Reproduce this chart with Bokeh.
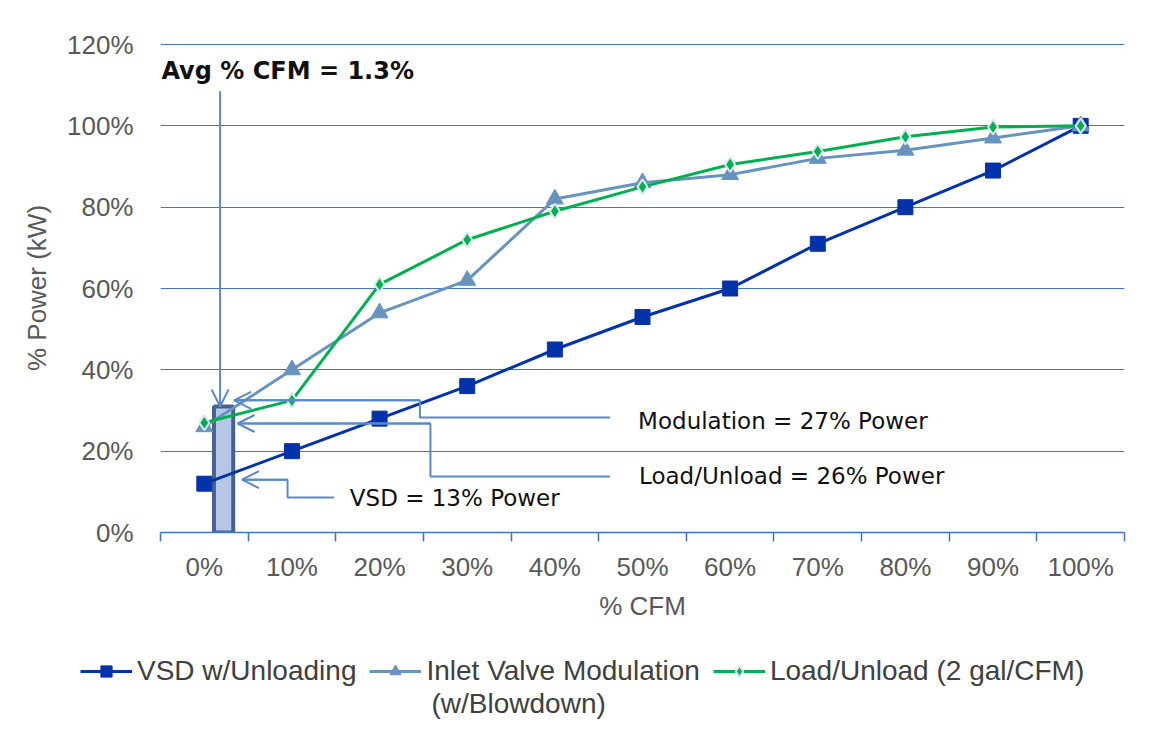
from bokeh.plotting import figure
from bokeh.models import (Range1d, FixedTicker, PrintfTickFormatter, Label, Arrow,
                          OpenHead, Legend, LegendItem)
from bokeh.embed import file_html
from bokeh.resources import INLINE

# ---------------- data ----------------
cfm_labels = ["0%", "10%", "20%", "30%", "40%", "50%", "60%", "70%", "80%", "90%", "100%"]
vsd_power = [12, 20, 28, 36, 45, 53, 60, 71, 80, 89, 100]
inlet_power = [26, 40, 54, 62, 82, 86, 88, 92, 94, 97, 100]
load_power = [27, 32.5, 61, 72, 79, 85, 90.5, 93.7, 97.3, 99.7, 100]
y_ticks = [0, 20, 40, 60, 80, 100, 120]

series_names = ["VSD w/Unloading", "Inlet Valve Modulation", "Load/Unload (2 gal/CFM)"]
series_name_2b = "(w/Blowdown)"

# annotation values (x in category-index units, y in % power)
avg_box_left, avg_box_right, avg_box_top = 0.11, 0.33, 31
avg_arrow_x, avg_arrow_y0 = 0.18, 108.5
mod_xs, mod_ys = [0.34, 2.46, 2.46, 4.63], [32.5, 32.5, 28.3, 28.3]
lu_xs, lu_ys = [0.38, 2.58, 2.58, 4.63], [26.8, 26.8, 13.8, 13.8]
vsd_xs, vsd_ys = [0.43, 0.95, 0.95, 1.48], [13.0, 13.0, 8.6, 8.6]

x = list(range(len(cfm_labels)))

BLUE_GRID = "#4472C4"
VSD_C = "#0033AA"
INLET_C = "#6794BF"
LOAD_C = "#00B050"
CONN_C = "#5B89C8"
TXT = "#595959"
LEG_TXT = "#404040"
W = 1148

p = figure(width=W, height=632, x_range=Range1d(-0.5, 10.5), y_range=Range1d(0, 120.25),
           output_backend="svg", toolbar_location=None,
           min_border_left=160, min_border_right=24, min_border_top=43, min_border_bottom=100)
p.outline_line_color = None
p.background_fill_color = "white"
p.border_fill_color = "white"

# x axis
xa = p.xaxis[0]
xa.ticker = FixedTicker(ticks=x, minor_ticks=[i - 0.5 for i in range(len(cfm_labels) + 1)])
xa.major_label_overrides = {i: lab for i, lab in enumerate(cfm_labels)}
xa.major_tick_line_color = None
xa.major_tick_out = 9
xa.major_tick_in = 0
xa.minor_tick_out = 9
xa.minor_tick_in = 0
xa.minor_tick_line_color = BLUE_GRID
xa.minor_tick_line_width = 1.5
xa.axis_line_color = BLUE_GRID
xa.axis_line_width = 1.5
xa.major_label_standoff = 10
xa.axis_label = "% CFM"
xa.axis_label_standoff = 6
p.xgrid.visible = False

# y axis
ya = p.yaxis[0]
ya.ticker = FixedTicker(ticks=y_ticks)
ya.formatter = PrintfTickFormatter(format="%d%%")
ya.axis_line_color = None
ya.major_tick_line_color = None
ya.minor_tick_line_color = None
ya.major_tick_out = 0
ya.major_tick_in = 0
ya.major_label_standoff = 27
ya.axis_label = "% Power (kW)"
ya.axis_label_standoff = 12
p.ygrid.ticker = FixedTicker(ticks=y_ticks)
p.ygrid.grid_line_color = BLUE_GRID
p.ygrid.grid_line_width = 1

for ax in (xa, ya):
    ax.major_label_text_font = "Liberation Sans"
    ax.major_label_text_font_size = "26px"
    ax.major_label_text_color = TXT
    ax.axis_label_text_font = "Liberation Sans"
    ax.axis_label_text_font_size = "26px"
    ax.axis_label_text_font_style = "normal"
    ax.axis_label_text_color = TXT

# average CFM box
p.quad(left=[avg_box_left], right=[avg_box_right], bottom=[0], top=[avg_box_top],
       fill_color="#B4C7E7", line_color="#44648F", line_width=4)


def draw_series(fig):
    r1l = fig.line(x, vsd_power, line_color=VSD_C, line_width=3)
    r1m = fig.scatter(x, vsd_power, marker="square", size=15, fill_color=VSD_C, line_color=VSD_C)
    r2l = fig.line(x, inlet_power, line_color=INLET_C, line_width=3)
    r2m = fig.scatter(x, inlet_power, marker="triangle", size=17, fill_color=INLET_C,
                      line_color=INLET_C)
    r3l = fig.line(x, load_power, line_color=LOAD_C, line_width=3)
    r3m = fig.scatter(x, load_power, marker="diamond", size=15, fill_color=LOAD_C,
                      line_color="#DCE6F2", line_width=2)
    return [[r1l, r1m], [r2l, r2m], [r3l, r3m]]


draw_series(p)

# connectors
for xs, ys in ((mod_xs, mod_ys), (lu_xs, lu_ys), (vsd_xs, vsd_ys)):
    p.line(xs, ys, line_color=CONN_C, line_width=2)
    p.add_layout(Arrow(end=OpenHead(size=17, line_color=CONN_C, line_width=2),
                       x_start=xs[1], y_start=ys[1], x_end=xs[0], y_end=ys[0],
                       line_color=CONN_C, line_width=2))
p.add_layout(Arrow(end=OpenHead(size=17, line_color=CONN_C, line_width=2),
                   x_start=avg_arrow_x, y_start=avg_arrow_y0, x_end=avg_arrow_x, y_end=avg_box_top,
                   line_color=CONN_C, line_width=2))


def lab(fig, xv, yv, t, size="23px", style="normal", font="DejaVu Sans", color="#111111"):
    fig.add_layout(Label(x=xv, y=yv, text=t, text_font=font, text_font_size=size,
                         text_font_style=style, text_color=color, text_baseline="middle"))


lab(p, 4.95, 27.3, "Modulation = 27% Power")
lab(p, 4.96, 13.8, "Load/Unload = 26% Power")
lab(p, 1.66, 8.6, "VSD = 13% Power")
lab(p, -0.49, 113.4, "Avg % CFM = 1.3%", size="24px", style="bold")

# ---------------- legend strip (separate root, frame = whole strip) ----------------
# the same series are drawn outside this strip's visible range; only the legend shows
q = figure(width=W, height=100, x_range=Range1d(0, W), y_range=Range1d(-100, 0),
           output_backend="svg", toolbar_location=None, x_axis_type=None, y_axis_type=None,
           min_border_left=0, min_border_right=0, min_border_top=0, min_border_bottom=0)
q.outline_line_color = None
q.xgrid.visible = False
q.ygrid.visible = False
q.background_fill_color = "white"
q.border_fill_color = "white"
leg_rs = draw_series(q)

legend = Legend(items=[LegendItem(label=n, renderers=r) for n, r in zip(series_names, leg_rs)],
                orientation="horizontal", location=(80, 45),
                label_text_font="Liberation Sans", label_text_font_size="28px",
                label_text_color=LEG_TXT,
                glyph_width=52, glyph_height=28, label_standoff=5, spacing=13, padding=0, margin=0,
                border_line_color=None, background_fill_alpha=0)
q.add_layout(legend, "center")
lab(q, 431, -71, series_name_2b, size="28px", font="Liberation Sans", color=LEG_TXT)

open("out.html", "w").write(file_html([p, q], INLINE))
